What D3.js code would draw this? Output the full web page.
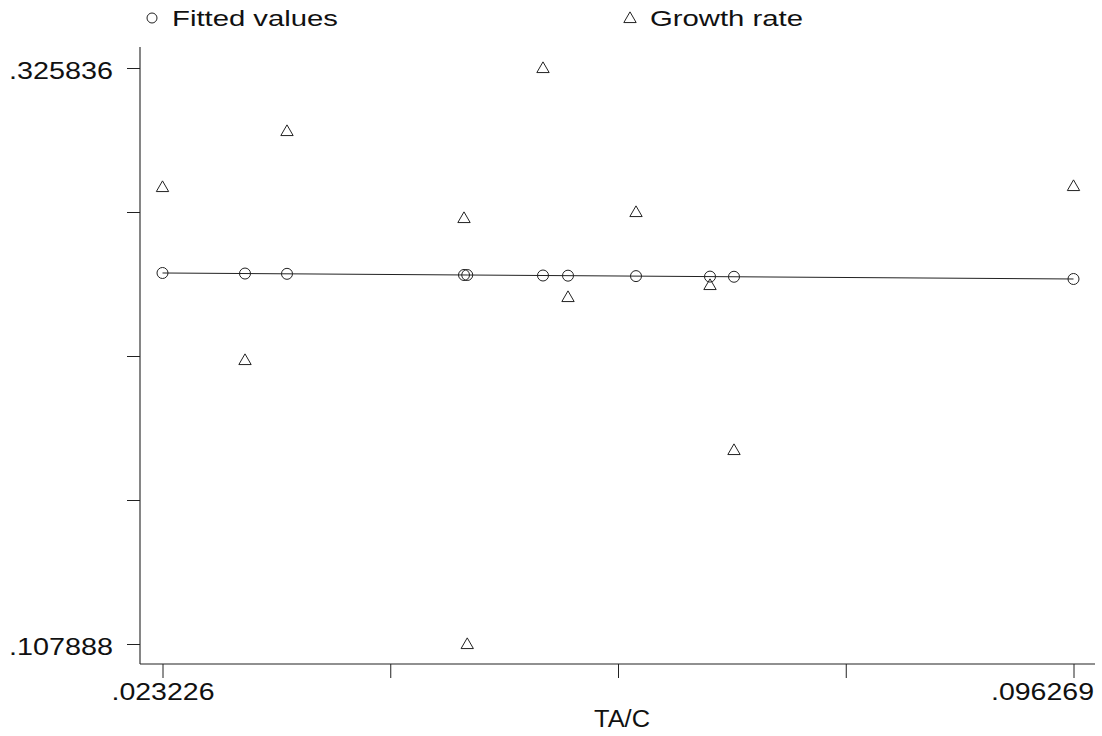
<!DOCTYPE html>
<html>
<head>
<meta charset="utf-8">
<script src="https://cdn.jsdelivr.net/npm/d3@7"></script>
<style>
  html, body { margin: 0; padding: 0; background: #fff; }
  svg { display: block; }
  text { font-family: "Liberation Sans", Arial, Helvetica, sans-serif; fill: #111; }
</style>
</head>
<body>
<svg id="chart" width="1102" height="736"></svg>
<script>
// TA/C ratio for each observation
const taC = [0.023226, 0.029841, 0.033208, 0.047400, 0.047660, 0.053734,
             0.055739, 0.061191, 0.067124, 0.069048, 0.096269];
// Observed growth rate
const growthRate = [0.280809, 0.215349, 0.301998, 0.269079, 0.107888, 0.325836,
                    0.239187, 0.271349, 0.243728, 0.181295, 0.281187];
// Fitted values from the linear regression of growth rate on TA/C
const fittedValues = [0.248268, 0.248062, 0.247958, 0.247517, 0.247509, 0.247320,
                      0.247258, 0.247088, 0.246904, 0.246844, 0.245998];

const xTicks = [0.023226, 0.0414868, 0.0597475, 0.0780083, 0.096269];
const xTickLabels = [".023226", "", "", "", ".096269"];
const yTicks = [0.107888, 0.162375, 0.216862, 0.271349, 0.325836];
const yTickLabels = [".107888", "", "", "", ".325836"];

const svg = d3.select("#chart");
const ink = "#222";

const x = d3.scaleLinear().domain([taC[0], taC[taC.length - 1]]).range([162.5, 1073.5]);
const y = d3.scaleLinear().domain([d3.min(growthRate), d3.max(growthRate)]).range([644, 68]);

// Axis lines (the frame runs past the data range)
svg.append("line").attr("x1", 140).attr("x2", 140).attr("y1", 47).attr("y2", 664)
  .attr("stroke", ink).attr("stroke-width", 1.1);
svg.append("line").attr("x1", 140).attr("x2", 1095).attr("y1", 664).attr("y2", 664)
  .attr("stroke", ink).attr("stroke-width", 1.1);

// x axis
const xAxis = svg.append("g").attr("transform", "translate(0,664)")
  .call(d3.axisBottom(x).tickValues(xTicks).tickSize(14).tickPadding(8)
    .tickFormat((d, i) => xTickLabels[i]));
xAxis.select(".domain").remove();
xAxis.selectAll(".tick line").attr("stroke", ink).attr("stroke-width", 1);
xAxis.selectAll(".tick text")
  .attr("font-size", 24).attr("fill", "#111")
  .attr("font-family", "Liberation Sans, Arial, sans-serif")
  .attr("dy", "0.6em")
  .attr("textLength", 103).attr("lengthAdjust", "spacingAndGlyphs");
// the rightmost label sits flush with the axis end
xAxis.selectAll(".tick").filter((d, i) => i === xTicks.length - 1).select("text")
  .attr("text-anchor", "end").attr("x", 20);

// y axis
const yAxis = svg.append("g").attr("transform", "translate(140,0)")
  .call(d3.axisLeft(y).tickValues(yTicks).tickSize(13).tickPadding(14)
    .tickFormat((d, i) => yTickLabels[i]));
yAxis.select(".domain").remove();
yAxis.selectAll(".tick line").attr("stroke", ink).attr("stroke-width", 1);
yAxis.selectAll(".tick text")
  .attr("font-size", 24).attr("fill", "#111")
  .attr("font-family", "Liberation Sans, Arial, sans-serif")
  .attr("dy", "0.45em")
  .attr("textLength", 104).attr("lengthAdjust", "spacingAndGlyphs");

// x axis title
svg.append("text").attr("x", 622).attr("y", 727).attr("text-anchor", "middle")
  .attr("font-size", 23).attr("textLength", 56).attr("lengthAdjust", "spacingAndGlyphs")
  .text("TA/C");

// Fitted line
const pts = taC.map((v, i) => ({ x: v, g: growthRate[i], f: fittedValues[i] }));
svg.append("path")
  .datum(pts)
  .attr("fill", "none").attr("stroke", ink).attr("stroke-width", 1)
  .attr("d", d3.line().x(d => x(d.x)).y(d => y(d.f)));

// Fitted value markers (hollow circles)
svg.append("g").selectAll("circle").data(pts).join("circle")
  .attr("cx", d => x(d.x)).attr("cy", d => y(d.f)).attr("r", 5.5)
  .attr("fill", "none").attr("stroke", ink).attr("stroke-width", 1);

// Growth rate markers (hollow triangles)
const tri = d3.symbol().type(d3.symbolTriangle).size(66);
svg.append("g").selectAll("path").data(pts).join("path")
  .attr("transform", d => `translate(${x(d.x)},${y(d.g) + 1})`)
  .attr("d", tri)
  .attr("fill", "none").attr("stroke", ink).attr("stroke-width", 1);

// Legend
const legend = svg.append("g");
legend.append("circle").attr("cx", 152).attr("cy", 18).attr("r", 5)
  .attr("fill", "none").attr("stroke", ink).attr("stroke-width", 1);
legend.append("text").attr("x", 172).attr("y", 26).attr("font-size", 22)
  .attr("textLength", 166).attr("lengthAdjust", "spacingAndGlyphs")
  .text("Fitted values");
legend.append("path").attr("transform", "translate(630,19)").attr("d", tri)
  .attr("fill", "none").attr("stroke", ink).attr("stroke-width", 1);
legend.append("text").attr("x", 650).attr("y", 26).attr("font-size", 22)
  .attr("textLength", 153).attr("lengthAdjust", "spacingAndGlyphs")
  .text("Growth rate");
</script>
</body>
</html>
